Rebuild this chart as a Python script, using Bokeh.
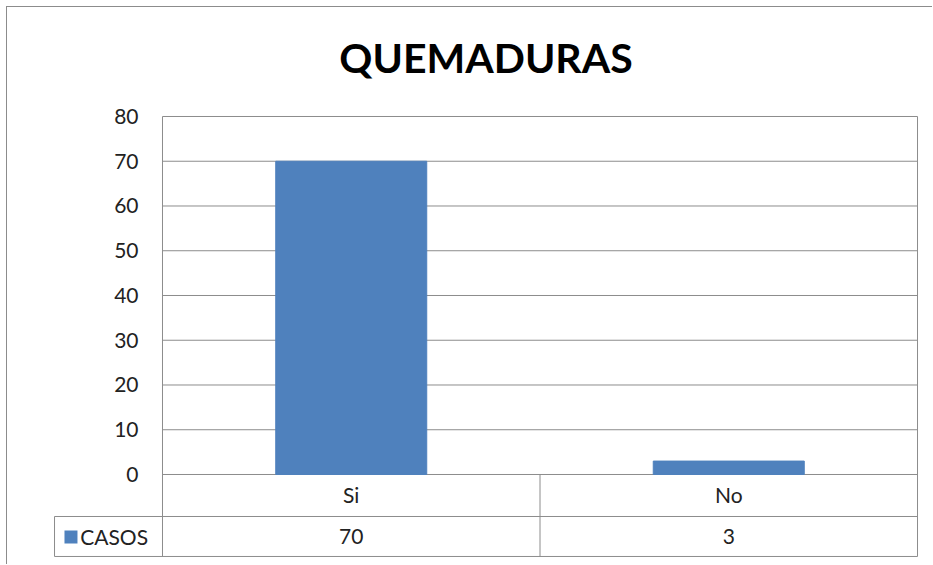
from bokeh.plotting import figure
from bokeh.models import FixedTicker, Range1d, ColumnDataSource
from bokeh.core.properties import value
from bokeh.embed import file_html
from bokeh.resources import INLINE

# ---- data ----
categories = ["Si", "No"]
casos = [70, 3]
series_name = "CASOS"
y_ticks = [0, 10, 20, 30, 40, 50, 60, 70, 80]
title_text = "QUEMADURAS"

# ---- style ----
BLUE = "#4F81BD"
GRID = "#8C8C8C"
TEXT = "#222222"
FONT = "Lato"

# ---- layout (data units of the chart's scales) ----
Y_ROW1 = -9.385      # line between category row and value row
Y_ROW2 = -18.32      # bottom of the data table
X_LEFT = -0.286      # left edge of the legend-key cell
N = len(categories)
xs = [i + 0.5 for i in range(N)]

p = figure(x_range=Range1d(-0.2887, N + 0.0026), y_range=Range1d(-18.55, 82.68),
           width=926, height=558, output_backend="svg", toolbar_location=None,
           min_border_left=46, min_border_right=15, min_border_top=97,
           min_border_bottom=8)
p.styles = {"margin-left": "6px", "margin-top": "6px",
            "border-left": "1px solid #8C8C8C", "border-top": "1px solid #8C8C8C"}
p.background_fill_color = "white"
p.border_fill_color = "white"
p.outline_line_color = None
p.xgrid.grid_line_color = None
p.ygrid.grid_line_color = None

# title
p.title.text = title_text
p.title.align = "center"
p.title.text_font = FONT
p.title.text_font_style = "bold"
p.title.text_font_size = "41px"
p.title.text_color = "black"
p.title.standoff = 46

# gridlines (one per tick) and plot-area / table rules
p.segment(x0=0, x1=N, y0=y_ticks, y1=y_ticks, line_color=GRID, line_width=1)
h_lines = [Y_ROW1, Y_ROW2]
p.segment(x0=X_LEFT, x1=N, y0=h_lines, y1=h_lines, line_color=GRID, line_width=1)
p.segment(x0=[0, N], x1=[0, N], y0=Y_ROW2, y1=y_ticks[-1], line_color=GRID, line_width=1)
p.segment(x0=list(range(1, N)), x1=list(range(1, N)), y0=Y_ROW2, y1=0,
          line_color=GRID, line_width=1)
p.segment(x0=X_LEFT, x1=X_LEFT, y0=Y_ROW2, y1=Y_ROW1, line_color=GRID, line_width=1)

# bars
src = ColumnDataSource(dict(x=xs, cat=categories, casos=casos,
                            label=[str(v) for v in casos]))
p.vbar(x="x", top="casos", width=0.4, source=src, fill_color=BLUE, line_color=BLUE)

# data table values
ymid = (Y_ROW1 + Y_ROW2) / 2
p.text(x="x", y=ymid, text="label", source=src, text_font=value(FONT),
       text_font_size="21px", text_align="center", text_baseline="middle",
       text_color=TEXT)
p.quad(left=-0.2596, right=-0.2252, top=-12.51, bottom=-15.42,
       fill_color=BLUE, line_color=None)
p.text(x=-0.218, y=ymid, text=[series_name], text_font=value(FONT),
       text_font_size="21px", text_align="left", text_baseline="middle",
       text_color=TEXT)

# y axis drawn at the plot-area's left edge
p.yaxis.fixed_location = 0
p.yaxis.ticker = FixedTicker(ticks=y_ticks)
p.yaxis.axis_line_color = None
p.yaxis.major_tick_line_color = None
p.yaxis.minor_tick_line_color = None
p.yaxis.major_tick_out = 0
p.yaxis.major_tick_in = 0
p.yaxis.major_label_standoff = 24
p.yaxis.major_label_text_font = FONT
p.yaxis.major_label_text_font_size = "21px"
p.yaxis.major_label_text_color = TEXT

# x axis (category row of the table) drawn at y = 0
p.xaxis.fixed_location = 0
p.xaxis.ticker = FixedTicker(ticks=xs)
p.xaxis.major_label_overrides = {x: c for x, c in zip(xs, categories)}
p.xaxis.axis_line_color = None
p.xaxis.major_tick_line_color = None
p.xaxis.minor_tick_line_color = None
p.xaxis.major_tick_out = 0
p.xaxis.major_tick_in = 0
p.xaxis.major_label_standoff = 8
p.xaxis.major_label_text_font = FONT
p.xaxis.major_label_text_font_size = "21px"
p.xaxis.major_label_text_color = TEXT

open("out.html", "w").write(file_html(p, INLINE))
